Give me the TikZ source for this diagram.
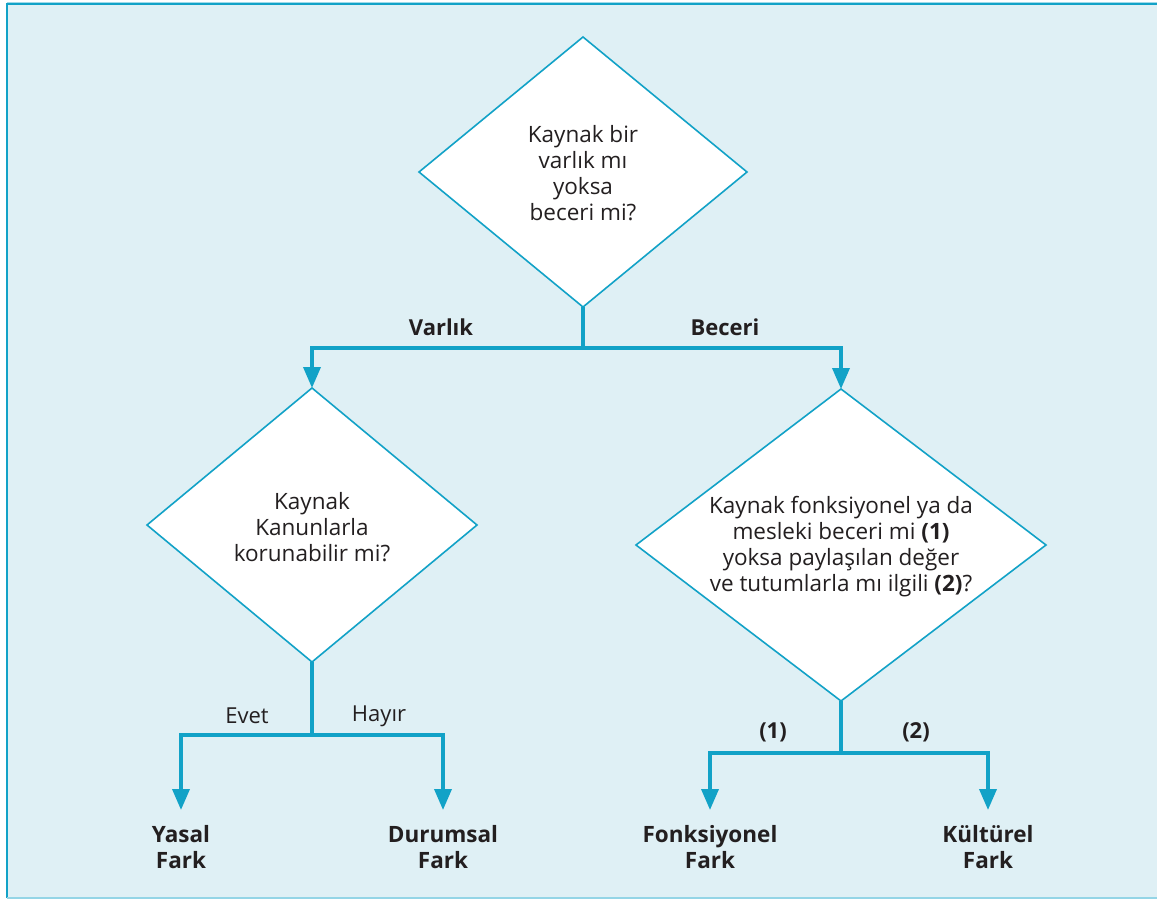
\documentclass[tikz,border=0pt]{standalone}
\usepackage{fontspec}
\setmainfont{Open Sans}
\usetikzlibrary{shapes.geometric,arrows.meta,calc}
\definecolor{frameblue}{HTML}{12A2C7}
\definecolor{panel}{HTML}{DFF0F5}
\definecolor{ink}{HTML}{231F20}
\begin{document}
\begin{tikzpicture}[x=1pt,y=-1pt,
  every node/.style={text=ink},
  decision/.style={diamond,draw=frameblue,fill=white,line width=1.6pt,inner sep=0pt,outer sep=0pt},
  qtext/.style={align=center,font=\fontsize{22.5}{26}\selectfont,inner sep=0pt},
  outcome/.style={align=center,font=\fontsize{22.5}{26}\selectfont\bfseries,inner sep=0pt,anchor=north},
  branch/.style={font=\fontsize{22}{24}\selectfont,inner sep=0pt},
  boldbranch/.style={branch,font=\fontsize{22}{24}\selectfont\bfseries},
  link/.style={draw=frameblue,line width=3.6pt},
  flow/.style={link,-{Triangle[width=17pt,length=21pt]}}]
  \useasboundingbox (0,0) rectangle (1157,899);
  % panel
  \fill[panel] (7,4) rectangle (1160,898);
  \draw[frameblue,line width=1.5pt] (1160,4) -- (7,4) -- (7,898);
  \draw[frameblue!45,line width=1.5pt] (7,898) -- (1160,898);
  \draw[frameblue!40,line width=1pt] (7,3) -- (1160,3);

  % decisions
  \node[decision,minimum width=328pt,minimum height=270pt] (q1) at (583,172) {};
  \node[qtext] at ($(q1)+(0,1)$) {Kaynak bir\\varlık mı\\yoksa\\beceri mi?};
  \node[decision,minimum width=330pt,minimum height=274pt] (q2) at (312,525) {};
  \node[qtext] at ($(q2)+(0,2)$) {Kaynak\\Kanunlarla\\korunabilir mi?};
  \node[decision,minimum width=410pt,minimum height=312pt] (q3) at (841,545) {};
  \node[qtext] at ($(q3)+(0,2)$) {Kaynak fonksiyonel ya da\\mesleki beceri mi \textbf{(1)}\\yoksa paylaşılan değer\\ve tutumlarla mı ilgili \textbf{(2)}?};

  % junctions
  \coordinate (j1) at (583,348);
  \coordinate (j2) at (312,735);
  \coordinate (j3) at (841,753);

  % outcomes
  \node[outcome] (r1) at (181,825) {Yasal\\Fark};
  \node[outcome] (r2) at (443,825) {Durumsal\\Fark};
  \node[outcome] (r3) at (710,825) {Fonksiyonel\\Fark};
  \node[outcome] (r4) at (988,825) {Kültürel\\Fark};

  % connectors
  \draw[link] (q1.south) -- (j1);
  \draw[flow] (j1) -| (q2.north);
  \draw[flow] (j1) -| (q3.north);
  \draw[link] (q2.south) -- (j2);
  \draw[flow] (j2) -| ([yshift=15pt]r1.north);
  \draw[flow] (j2) -| ([yshift=15pt]r2.north);
  \draw[link] (q3.south) -- (j3);
  \draw[flow] (j3) -| ([yshift=15pt]r3.north);
  \draw[flow] (j3) -| ([yshift=15pt]r4.north);

  % branch labels
  \node[boldbranch] (bl1) at (441,327) {Varlık};
  \node[boldbranch] (bl2) at (725,327) {Beceri};
  \node[branch] (bl3) at (247,716) {Evet};
  \node[branch] (bl4) at (379,716) {Hayır};
  \node[boldbranch] (bl5) at (773,732) {(1)};
  \node[boldbranch] (bl6) at (916,732) {(2)};
\end{tikzpicture}
\end{document}
